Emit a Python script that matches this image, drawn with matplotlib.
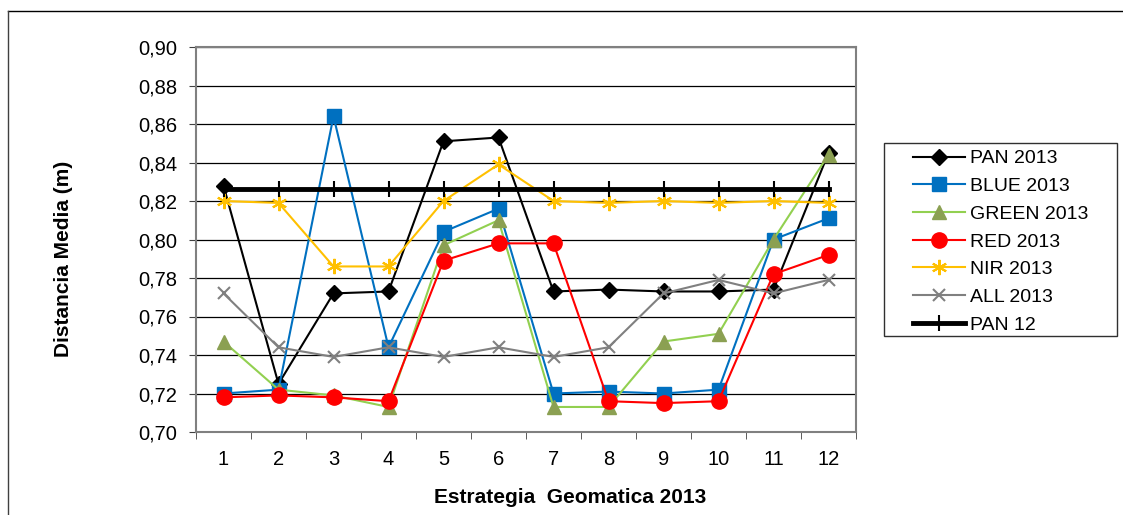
import matplotlib
matplotlib.use("Agg")
import matplotlib.pyplot as plt
from matplotlib.lines import Line2D
from matplotlib.patches import Rectangle
from matplotlib.legend_handler import HandlerLine2D
from matplotlib.ticker import FuncFormatter

plt.rcParams['font.family'] = ['Liberation Sans', 'DejaVu Sans']

estrategias = list(range(1, 13))
pan_2013 = [0.828, 0.725, 0.772, 0.773, 0.851, 0.853, 0.773, 0.774, 0.773, 0.773, 0.774, 0.845]
blue_2013 = [0.720, 0.722, 0.864, 0.744, 0.804, 0.816, 0.720, 0.721, 0.720, 0.722, 0.800, 0.811]
green_2013 = [0.747, 0.722, 0.719, 0.713, 0.797, 0.810, 0.713, 0.713, 0.747, 0.751, 0.800, 0.844]
red_2013 = [0.718, 0.719, 0.718, 0.716, 0.789, 0.798, 0.798, 0.716, 0.715, 0.716, 0.782, 0.792]
nir_2013 = [0.820, 0.819, 0.786, 0.786, 0.820, 0.839, 0.820, 0.819, 0.820, 0.819, 0.820, 0.819]
all_2013 = [0.772, 0.744, 0.739, 0.744, 0.739, 0.744, 0.739, 0.744, 0.772, 0.779, 0.772, 0.779]
pan_12 = [0.826] * 12

W, H = 1123, 515
fig = plt.figure(figsize=(W / 100, H / 100), dpi=100)
# outer chart frame (top and left edges visible)
fig.add_artist(Line2D([8 / W, 1.0], [1 - 11 / H] * 2, color='black', lw=1.0))
fig.add_artist(Line2D([8 / W] * 2, [0.0, 1 - 11 / H], color='#404040', lw=1.0))

ax = fig.add_axes([196 / W, 1 - 432 / H, 660 / W, 385 / H])

ax.plot(estrategias, pan_2013, color='black', lw=1.5, marker='D', ms=8,
        label='PAN 2013', zorder=3)
ax.plot(estrategias, blue_2013, color='#0070C0', lw=1.5, marker='s', ms=10,
        label='BLUE 2013', zorder=3)
ax.plot(estrategias, green_2013, color='#92D050', lw=1.5, marker='^', ms=10,
        mfc='#8BA052', mec='#8BA052', label='GREEN 2013', zorder=3)
ax.plot(estrategias, red_2013, color='#FF0000', lw=1.5, marker='o', ms=11,
        label='RED 2013', zorder=3)
ax.plot(estrategias, nir_2013, color='#FFC000', lw=1.5, marker=(6, 2, 0), ms=11,
        mew=1.5, label='NIR 2013', zorder=3)
ax.plot(estrategias, all_2013, color='#808080', lw=1.5, marker='x', ms=9,
        mew=1.5, label='ALL 2013', zorder=3)
ax.plot(estrategias, pan_12, color='black', lw=3.5, marker='|', ms=12,
        mew=1.5, label='PAN 12', zorder=4)

ax.set_xlim(0.5, 12.5)
ax.set_ylim(0.70, 0.90)
ax.set_yticks([0.70 + 0.02 * i for i in range(11)])
ax.yaxis.set_major_formatter(FuncFormatter(lambda v, p: f"{v:.2f}".replace('.', ',')))
ax.set_xticks(estrategias)
ax.set_xticks([i + 0.5 for i in range(0, 13)], minor=True)
ax.tick_params(axis='x', which='major', length=0, pad=13, labelsize=14.5)
ax.tick_params(axis='x', which='minor', length=5, direction='out', color='#404040')
ax.tick_params(axis='y', length=5, direction='out', color='#404040', labelsize=14.5, pad=8.5)
ax.grid(axis='y', color='black', lw=0.9)
ax.set_axisbelow(True)
for s in ax.spines.values():
    s.set_color('#808080')
    s.set_linewidth(1.5)

ax.set_xlabel('Estrategia  Geomatica 2013', fontsize=15, fontweight='bold')
ax.xaxis.set_label_coords(0.567, -0.145)
ax.set_ylabel('Distancia Media (m)', fontsize=15, fontweight='bold', va='center')
ax.yaxis.set_label_coords(-0.2015, 0.449)

# legend box drawn separately so its size matches the original
fig.add_artist(Rectangle((884 / W, 1 - 336 / H), (1117 - 884) / W, (336 - 143) / H,
                         transform=fig.transFigure, fill=False, ec='#303030', lw=1.0))
leg = fig.legend(loc='upper left', bbox_to_anchor=(884 / W, 1 - 143 / H),
                 fontsize=14, frameon=False,
                 handler_map={Line2D: HandlerLine2D(xpad=1.14)},
                 handlelength=3.82, handletextpad=0.25, labelspacing=0.52,
                 borderpad=0.35, borderaxespad=0)

plt.savefig('out.png', dpi=100)
plt.close()
